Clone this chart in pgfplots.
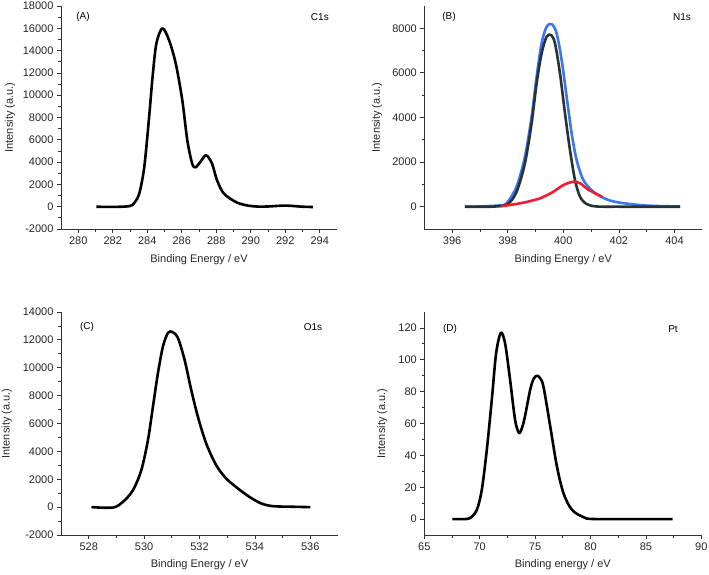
\documentclass[border=0pt]{standalone}
\usepackage{fontspec}
\setmainfont{Liberation Sans}
\usepackage{pgfplots}
\pgfplotsset{compat=1.18}
\definecolor{fitblue}{RGB}{59,117,240}
\definecolor{fitred}{RGB}{236,30,50}
\definecolor{fitdark}{RGB}{40,50,48}

\pgfplotsset{xps/.style={
    scale only axis, width=276pt, height=223pt,
    axis x line*=bottom, axis y line*=left,
    axis line style={black!80, line width=0.8pt},
    tick align=outside,
    every tick/.style={black!80, line width=0.8pt},
    major tick length=4pt, minor tick length=2.5pt,
    minor tick num=1,
    scaled y ticks=false,
    tick label style={font=\fontsize{11}{13}\selectfont, text=black!85},
    label style={font=\fontsize{11}{13}\selectfont, text=black!85},
    yticklabel style={/pgf/number format/fixed, /pgf/number format/1000 sep={}},
    /pgf/number format/assume math mode=true,
    ylabel={Intensity (a.u.)},
    every axis plot/.append style={line width=2.6pt, smooth, line join=round},
    clip=false,
  }}

\begin{document}
\begin{tikzpicture}
\useasboundingbox (0pt,0pt) rectangle (709pt,574pt);

% (A) C1s
\begin{axis}[xps, at={(61pt,345pt)}, anchor=south west,
    xmin=279, xmax=295, ymin=-2000, ymax=18000,
    xtick={280,282,...,294}, ytick={-2000,0,...,18000},
    xlabel={Binding Energy / eV},
    ylabel style={at={(axis description cs:-0.185,0.5)}, anchor=center},
    xlabel style={at={(axis description cs:0.5,-0.139)}, anchor=center}]
\addplot[black] coordinates {
(281.05,0) (282.0,-20) (282.97,50) (283.25,350) (283.54,1200) (283.83,3590) (284.11,8070)
(284.31,11660) (284.53,14650) (284.88,16000) (285.26,14950) (285.65,12860)
(286.03,9570) (286.32,5980) (286.6,3890) (286.8,3530) (287.09,4040)
(287.41,4610) (287.75,3890) (288.04,2390) (288.43,1200) (289.1,450)
(289.67,150) (290.3,20) (291.0,20) (292.0,100) (293.0,0) (293.6,-30)};
\node at (rel axis cs:0.08,0.952) {(A)};
\node at (rel axis cs:0.938,0.952) {C1s};
\end{axis}

% (B) N1s
\begin{axis}[xps, width=278pt, at={(424.3pt,345pt)}, anchor=south west,
    xmin=395, xmax=405, ymin=-1000, ymax=9000,
    xtick={396,398,...,404}, ytick={0,2000,...,8000},
    xlabel={Binding Energy / eV},
    ylabel style={at={(axis description cs:-0.17,0.5)}, anchor=center},
    xlabel style={at={(axis description cs:0.5,-0.139)}, anchor=center}]
\addplot[fitblue] coordinates {
(396.46,0) (397.0,10) (397.72,60) (397.96,150) (398.32,900) (398.62,2240)
(398.86,4040) (399.04,5830) (399.22,7330) (399.40,8070) (399.58,8190)
(399.76,7780) (399.94,6580) (400.12,4930) (400.30,3290) (400.48,2090)
(400.72,1200) (401.08,670) (401.56,330) (402.04,180) (403.0,50) (404.2,10)};
\addplot[fitdark] coordinates {
(396.46,0) (397.5,5) (398.0,120) (398.32,670) (398.62,1950) (398.86,3740)
(399.04,5530) (399.22,6880) (399.40,7620) (399.56,7700) (399.70,7330)
(399.88,5980) (400.06,4190) (400.24,2540) (400.42,1200) (400.60,450)
(400.84,120) (401.2,10) (402.0,0) (404.2,0)};
\addplot[fitred] coordinates {
(397.75,20) (398.0,60) (398.56,180) (399.16,375) (399.64,670) (400.0,970)
(400.36,1120) (400.6,1050) (400.9,760) (401.1,630) (401.4,440)};
\node at (rel axis cs:0.089,0.95) {(B)};
\node at (rel axis cs:0.927,0.95) {N1s};
\end{axis}

% (C) O1s
\begin{axis}[xps, width=277pt, at={(61pt,39pt)}, anchor=south west,
    xmin=527, xmax=537, ymin=-2000, ymax=14000,
    xtick={528,530,...,536}, ytick={-2000,0,...,14000},
    xlabel={Binding Energy / eV},
    ylabel style={at={(axis description cs:-0.196,0.5)}, anchor=center},
    xlabel style={at={(axis description cs:0.5,-0.135)}, anchor=center}]
\addplot[black] coordinates {
(528.1,0) (528.88,-30) (529.24,380) (529.60,1220) (529.90,2660) (530.14,4820)
(530.32,7220) (530.50,9620) (530.68,11530) (530.86,12500) (531.02,12570)
(531.22,12140) (531.46,10580) (531.70,8420) (531.94,6500) (532.24,4580)
(532.60,3020) (532.96,2060) (533.38,1350) (533.80,740) (534.22,270)
(534.64,70) (535.3,30) (536.0,0)};
\node at (rel axis cs:0.094,0.933) {(C)};
\node at (rel axis cs:0.91,0.933) {O1s};
\end{axis}

% (D) Pt
\begin{axis}[xps, width=277pt, at={(424.3pt,39pt)}, anchor=south west,
    xmin=65, xmax=90, ymin=-10, ymax=130,
    xtick={65,70,...,90}, ytick={0,20,...,120},
    xlabel={Binding energy / eV},
    ylabel style={at={(axis description cs:-0.152,0.5)}, anchor=center},
    xlabel style={at={(axis description cs:0.5,-0.135)}, anchor=center}]
\addplot[black] coordinates {
(67.53,0) (68.5,0) (69.13,0.6) (69.74,5.8) (70.19,18.4) (70.64,43.4)
(71.09,74.8) (71.48,104) (71.91,117) (72.3,110) (72.75,87) (73.2,62)
(73.56,54) (73.85,58) (74.1,65) (74.55,81) (74.86,88) (75.16,90) (75.45,88.5)
(75.76,83) (76.37,58) (76.97,33) (77.57,16) (78.33,5.8) (79.38,1.2) (80.5,0) (87.42,0)};
\node at (rel axis cs:0.093,0.924) {(D)};
\node at (rel axis cs:0.898,0.924) {Pt};
\end{axis}
\end{tikzpicture}
\end{document}
